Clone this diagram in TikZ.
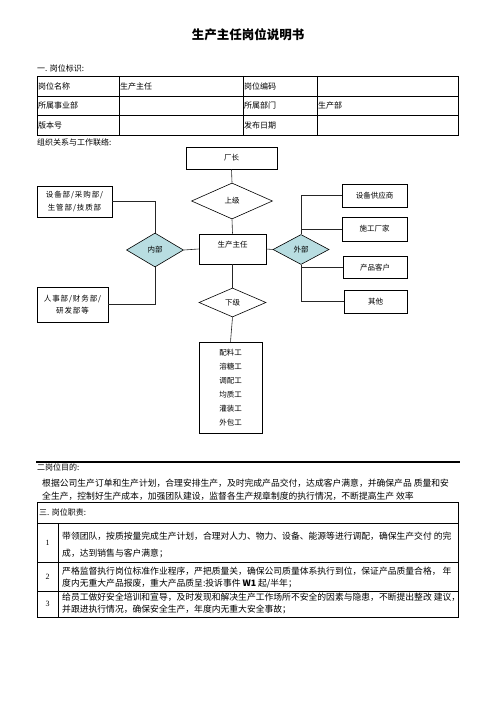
\documentclass[tikz,border=0pt]{standalone}
\usepackage{fontspec}
\setmainfont{Liberation Serif}
\newfontfamily\cjk{Noto Sans CJK SC}
\newfontfamily\cjksp[LetterSpace=12]{Noto Sans CJK SC}
\usetikzlibrary{shapes.geometric}
\definecolor{teal1}{HTML}{B8DDE1}
\tikzset{
  box/.style={draw=black,line width=0.6pt,inner sep=0pt,font=\cjk\fontsize{7.5}{10}\selectfont},
  dia/.style={draw=black,line width=0.6pt,diamond,inner sep=0pt,font=\cjk\fontsize{7.5}{10}\selectfont},
  conn/.style={draw=black!85,line width=0.6pt},
  lbl/.style={anchor=west,inner sep=0pt,font=\cjk\fontsize{8}{10}\selectfont},
  cell/.style={anchor=west,inner sep=0pt,font=\cjk\fontsize{8}{10}\selectfont},
  para/.style={anchor=west,inner sep=0pt,font=\cjk\fontsize{8.8}{10}\selectfont},
  tline/.style={draw=black,line width=0.9pt},
}
\begin{document}
\begin{tikzpicture}[x=1pt,y=-1pt]
\useasboundingbox (0,0) rectangle (503,711);
\fill[white] (0,0) rectangle (503,711);
% title
\node[inner sep=0pt,font=\cjk\bfseries\fontsize{12.5}{14}\selectfont] (title) at (248,35) {生产主任岗位说明书};
\node[lbl] (s1) at (37,68) {一. 岗位标识:};
% table 1
\draw[tline] (37,76) rectangle (458,135);
\draw[tline] (37,96) -- (458,96) (37,115) -- (458,115);
\draw[tline] (119,76) -- (119,135) (243,76) -- (243,135) (317,76) -- (317,135);
\node[cell] (c11) at (38,86) {岗位名称};
\node[cell] (c12) at (120,86) {生产主任};
\node[cell] (c13) at (244,86) {岗位编码};
\node[cell] (c21) at (38,105.5) {所属事业部};
\node[cell] (c23) at (244,105.5) {所属部门};
\node[cell] (c24) at (318,105.5) {生产部};
\node[cell] (c31) at (38,125) {版本号};
\node[cell] (c33) at (244,125) {发布日期};
\node[lbl] (s2) at (37,142) {组织关系与工作联络:};
% diagram
\node[box,minimum width=91pt,minimum height=22pt] (cz) at (231.5,158) {厂长};
\node[dia,minimum width=81pt,minimum height=36pt,aspect=2.25] (sj) at (232,201) {上级};
\node[box,minimum width=67pt,minimum height=30pt] (sc) at (232.5,249) {};
\node[inner sep=0pt,font=\cjk\fontsize{7.5}{10}\selectfont] (sct) at (232.5,244.5) {生产主任};
\node[dia,fill=teal1,minimum width=57pt,minimum height=34pt,aspect=1.7] (nb) at (155,250) {内部};
\node[dia,fill=teal1,minimum width=56pt,minimum height=30pt,aspect=1.9] (wb) at (301,249.5) {外部};
\node[dia,minimum width=67pt,minimum height=29pt,aspect=2.3] (xj) at (232.5,302.5) {下级};
\node[box,minimum width=63pt,minimum height=91pt] (gz) at (230.5,387.5) {};
\foreach \t/\yy in {配料工/353,溶糖工/367,调配工/381,均质工/395,灌装工/409,外包工/423}
  \node[inner sep=0pt,font=\cjk\fontsize{7.5}{10}\selectfont] (w\yy) at (230.5,\yy) {\t};
\node[box,minimum width=75pt,minimum height=31pt,align=center,font=\cjksp\fontsize{7.5}{12.5}\selectfont] (sb) at (74.5,201.5) {设备部/采购部/\\生管部/技质部};
\node[box,minimum width=71pt,minimum height=35pt,align=center,font=\cjksp\fontsize{7.5}{12.5}\selectfont] (rs) at (72.5,304.5) {人事部/财务部/\\研发部等};
\node[box,minimum width=65pt,minimum height=23pt] (gy) at (374.5,195.5) {设备供应商};
\node[box,minimum width=65pt,minimum height=24pt] (sg) at (374.5,229) {施工厂家};
\node[box,minimum width=64pt,minimum height=22pt] (kh) at (375,267.5) {产品客户};
\node[box,minimum width=63pt,minimum height=23pt] (qt) at (375.5,301.5) {其他};
% connectors
\draw[conn] (cz.south) -- (sj.north);
\draw[conn] (sj.south) -- (sc.north);
\draw[conn] (sc.south) -- (xj.north);
\draw[conn] (xj.south) -- (gz.north);
\draw[conn] (nb.east) -- (sc.west);
\draw[conn] (sc.east) -- (wb.west);
\draw[conn] (nb.north) |- (sb.east);
\draw[conn] (nb.south) |- (rs.east);
\draw[conn] (wb.north) |- (gy.west);
\draw[conn] (wb.north) |- (sg.west);
\draw[conn] (wb.south) |- (kh.west);
\draw[conn] (wb.south) |- (qt.west);
% section 2
\draw[line width=1.1pt] (36,462) -- (460,462);
\node[lbl] (s3) at (37,467) {二岗位目的:};
\node[para] (p1) at (42,483) {根据公司生产订单和生产计划，合理安排生产，及时完成产品交付，达成客户满意，并确保产品 质量和安};
\node[para] (p2) at (42,496) {全生产，控制好生产成本，加强团队建设，监督各生产规章制度的执行情况，不断提高生产 效率};
% table 3
\draw[tline] (37,502) rectangle (458,617);
\draw[tline] (37,523) -- (458,523) (37,562) -- (458,562) (37,591) -- (458,591);
\draw[tline] (58,523) -- (58,617);
\node[lbl] (s4) at (39,512.5) {三. 岗位职责:};
\node[inner sep=0pt,font=\fontsize{8}{10}\selectfont] (n1) at (47.5,542.5) {1};
\node[inner sep=0pt,font=\fontsize{8}{10}\selectfont] (n2) at (47.5,577) {2};
\node[inner sep=0pt,font=\fontsize{8}{10}\selectfont] (n3) at (47.5,604) {3};
\node[para] (r11) at (62,536.5) {带领团队，按质按量完成生产计划，合理对人力、物力、设备、能源等进行调配，确保生产交付 的完};
\node[para] (r12) at (62,553) {成，达到销售与客户满意；};
\node[para] (r21) at (62,571.5) {严格监督执行岗位标准作业程序，严把质量关，确保公司质量体系执行到位，保证产品质量合格， 年};
\node[para] (r22) at (62,583.5) {度内无重大产品报废，重大产品质呈:投诉事件 \textbf{W1} 起/半年；};
\node[para] (r31) at (62,597) {给员工做好安全培训和宣导，及时发现和解决生产工作场所不安全的因素与隐患，不断提出整改 建议，};
\node[para] (r32) at (62,609) {并跟进执行情况，确保安全生产，年度内无重大安全事故；};
\end{tikzpicture}
\end{document}
